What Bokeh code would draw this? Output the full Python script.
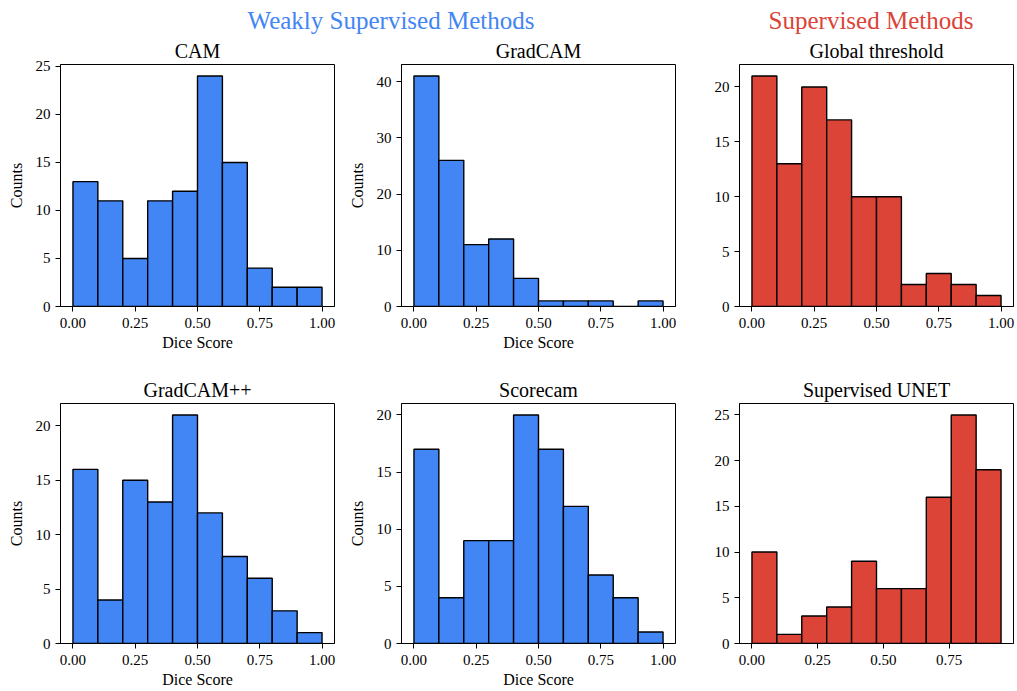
import numpy as np
from bokeh.plotting import figure
from bokeh.layouts import column, row
from bokeh.models import Range1d, FixedTicker, NumeralTickFormatter
from bokeh.core.properties import value
from bokeh.embed import file_html
from bokeh.resources import INLINE

FONT = "Liberation Serif"
BLUE = "#4285F4"
RED = "#DB4437"

# ---- data (counts per bin, 10 equal bins each) ----
cam_counts = [13, 11, 5, 11, 12, 24, 15, 4, 2, 2]
gradcam_counts = [41, 26, 11, 12, 5, 1, 1, 1, 0, 1]
global_counts = [21, 13, 20, 17, 10, 10, 2, 3, 2, 1]
gradcampp_counts = [16, 4, 15, 13, 21, 12, 8, 6, 3, 1]
scorecam_counts = [17, 4, 9, 9, 20, 17, 12, 6, 4, 1]
unet_counts = [10, 1, 3, 4, 9, 6, 6, 16, 25, 19]

# data range (min, max Dice score) covered by the bins
cam_range = (0.0, 1.0)
gradcam_range = (0.0, 1.0)
global_range = (0.0, 1.0)
gradcampp_range = (0.0, 1.0)
scorecam_range = (0.0, 1.0)
unet_range = (0.0, 0.947)

x_ticks = [0.0, 0.25, 0.5, 0.75, 1.0]
cam_yticks = [0, 5, 10, 15, 20, 25]
gradcam_yticks = [0, 10, 20, 30, 40]
global_yticks = [0, 5, 10, 15, 20]
gradcampp_yticks = [0, 5, 10, 15, 20]
scorecam_yticks = [0, 5, 10, 15, 20]
unet_yticks = [0, 5, 10, 15, 20, 25]

titles = ["CAM", "GradCAM", "Global threshold", "GradCAM++", "Scorecam", "Supervised UNET"]
heading_weak = "Weakly Supervised Methods"
heading_sup = "Supervised Methods"
x_label = "Dice Score"
y_label = "Counts"

FRAME_W = 274
FRAME_H1 = 242
FRAME_H2 = 240


def make_hist(title, counts, rng, color, yticks, ylabel, xlabel,
              frame_h, left, right, top, bottom):
    lo, hi = rng
    n = len(counts)
    edges = np.linspace(lo, hi, n + 1)
    pad = 0.05 * (hi - lo)
    ymax = max(counts) * 1.05
    p = figure(frame_width=FRAME_W, frame_height=frame_h, output_backend="svg",
               toolbar_location=None, x_range=Range1d(lo - pad, hi + pad),
               y_range=Range1d(0, ymax), min_border_left=left, min_border_right=right,
               min_border_top=top, min_border_bottom=bottom, title=title,
               background_fill_color="white", border_fill_color="white")
    p.quad(left=edges[:-1], right=edges[1:], bottom=0, top=counts,
           fill_color=color, line_color="black", line_width=1.4)
    p.grid.visible = False
    p.outline_line_color = "black"
    p.outline_line_width = 1
    p.title.text_font = FONT
    p.title.text_font_size = "20px"
    p.title.text_font_style = "normal"
    p.title.text_color = "black"
    p.title.align = "center"
    p.title.standoff = 5
    for ax in (p.xaxis[0], p.yaxis[0]):
        ax.axis_line_color = "black"
        ax.axis_line_width = 1
        ax.major_tick_line_color = "black"
        ax.major_tick_line_width = 1
        ax.major_tick_out = 5
        ax.major_tick_in = 0
        ax.minor_tick_line_color = None
        ax.major_label_text_font = FONT
        ax.major_label_text_font_size = "15px"
        ax.major_label_text_color = "black"
        ax.axis_label_text_font = FONT
        ax.axis_label_text_font_size = "16px"
        ax.axis_label_text_font_style = "normal"
        ax.axis_label_text_color = "black"
    p.xaxis.ticker = FixedTicker(ticks=x_ticks)
    p.xaxis.formatter = NumeralTickFormatter(format="0.00")
    p.xaxis.major_label_standoff = 6
    p.xaxis.axis_label_standoff = 3
    p.yaxis.ticker = FixedTicker(ticks=yticks)
    p.yaxis.major_label_standoff = 5
    p.yaxis.axis_label_standoff = 8
    if xlabel:
        p.xaxis.axis_label = xlabel
    if ylabel:
        p.yaxis.axis_label = ylabel
    return p


f1 = make_hist(titles[0], cam_counts, cam_range, BLUE, cam_yticks, y_label, x_label,
               FRAME_H1, 60, 10, 30, 67)
f2 = make_hist(titles[1], gradcam_counts, gradcam_range, BLUE, gradcam_yticks, y_label, x_label,
               FRAME_H1, 57, 9, 30, 67)
f3 = make_hist(titles[2], global_counts, global_range, RED, global_yticks, None, None,
               FRAME_H1, 55, 3, 30, 67)
f4 = make_hist(titles[3], gradcampp_counts, gradcampp_range, BLUE, gradcampp_yticks, y_label, x_label,
               FRAME_H2, 60, 10, 30, 47)
f5 = make_hist(titles[4], scorecam_counts, scorecam_range, BLUE, scorecam_yticks, y_label, x_label,
               FRAME_H2, 57, 9, 30, 47)
f6 = make_hist(titles[5], unet_counts, unet_range, RED, unet_yticks, None, None,
               FRAME_H2, 55, 3, 30, 47)

TOTAL_W = (60 + FRAME_W + 10) + (57 + FRAME_W + 9) + (55 + FRAME_W + 3)
HEAD_H = 34
head = figure(width=TOTAL_W, height=HEAD_H, output_backend="svg", toolbar_location=None,
              x_range=Range1d(0, TOTAL_W), y_range=Range1d(HEAD_H, 0),
              min_border=0, outline_line_color=None,
              background_fill_color="white", border_fill_color="white")
head.axis.visible = False
head.grid.visible = False
head.text(x=[390.5], y=[19.5], text=[heading_weak], text_font=value(FONT),
          text_font_size="25px", text_color=BLUE, text_align="center",
          text_baseline="alphabetic", text_line_height=1.0)
head.text(x=[870.5], y=[19.5], text=[heading_sup], text_font=value(FONT),
          text_font_size="25px", text_color=RED, text_align="center",
          text_baseline="alphabetic", text_line_height=1.0)

layout = column(head, row(f1, f2, f3), row(f4, f5, f6))
open("out.html", "w").write(file_html(layout, INLINE))
